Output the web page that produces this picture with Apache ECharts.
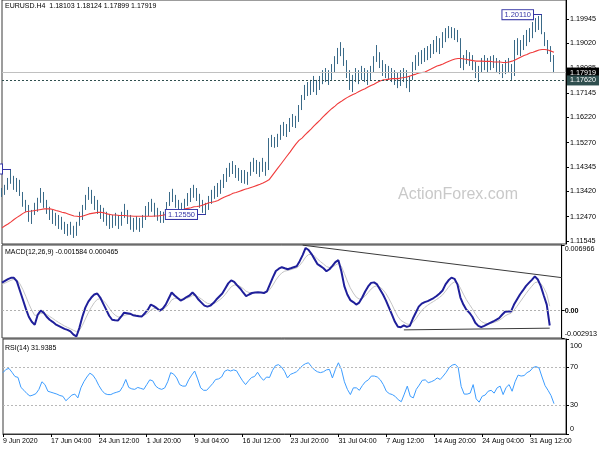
<!DOCTYPE html>
<html><head><meta charset="utf-8">
<script src="https://cdn.jsdelivr.net/npm/echarts@6/dist/echarts.min.js"></script>
<style>html,body{margin:0;padding:0;background:#fff}#c{width:600px;height:450px}</style>
</head><body><div id="c"></div>
<script>
const tickLabels = ['9 Jun 2020','17 Jun 04:00','24 Jun 12:00','1 Jul 20:00','9 Jul 04:00','16 Jul 12:00','23 Jul 20:00','31 Jul 04:00','7 Aug 12:00','14 Aug 20:00','24 Aug 04:00','31 Aug 12:00'];
const barsPerLabel = 16;
const slotCount = 189;

const opens = [1.1348,1.1340,1.1355,1.1378,1.1393,1.1367,1.1378,1.1336,1.1299,1.1280,
1.1249,1.1265,1.1287,1.1306,1.1329,1.1295,1.1272,1.1257,1.1242,1.1227,
1.1234,1.1212,1.1200,1.1193,1.1212,1.1181,1.1216,1.1249,1.1280,1.1318,
1.1340,1.1318,1.1291,1.1272,1.1257,1.1246,1.1234,1.1219,1.1234,1.1227,
1.1216,1.1253,1.1265,1.1234,1.1216,1.1204,1.1227,1.1212,1.1242,1.1272,
1.1291,1.1299,1.1272,1.1253,1.1242,1.1249,1.1291,1.1325,1.1336,1.1299,
1.1280,1.1272,1.1291,1.1318,1.1340,1.1348,1.1325,1.1299,1.1280,1.1284,
1.1310,1.1329,1.1340,1.1355,1.1367,1.1393,1.1416,1.1431,1.1439,1.1416,
1.1401,1.1393,1.1386,1.1405,1.1439,1.1450,1.1423,1.1416,1.1461,1.1423,
1.1529,1.1529,1.1522,1.1544,1.1575,1.1582,1.1567,1.1605,1.1620,1.1605,
1.1658,1.1688,1.1726,1.1733,1.1718,1.1756,1.1733,1.1764,1.1783,1.1771,
1.1786,1.1809,1.1839,1.1869,1.1885,1.1832,1.1794,1.1745,1.1764,1.1786,
1.1771,1.1794,1.1779,1.1764,1.1801,1.1839,1.1869,1.1832,1.1801,1.1794,
1.1786,1.1779,1.1771,1.1756,1.1779,1.1786,1.1748,1.1741,1.1817,1.1839,
1.1847,1.1854,1.1862,1.1869,1.1885,1.1896,1.1907,1.1885,1.1930,1.1937,
1.1953,1.1945,1.1937,1.1922,1.1824,1.1839,1.1854,1.1847,1.1817,1.1794,
1.1801,1.1832,1.1824,1.1817,1.1839,1.1832,1.1817,1.1809,1.1801,1.1824,
1.1832,1.1786,1.1896,1.1885,1.1900,1.1915,1.1922,1.1945,1.1968,1.1975,
1.1983,1.1953,1.1907,1.1877,1.1847];
const highs = [1.1355,1.1367,1.1393,1.1427,1.1401,1.1393,1.1386,1.1340,1.1310,1.1291,
1.1272,1.1299,1.1318,1.1355,1.1340,1.1310,1.1284,1.1272,1.1261,1.1253,
1.1246,1.1227,1.1219,1.1227,1.1212,1.1227,1.1265,1.1291,1.1329,1.1359,
1.1348,1.1325,1.1310,1.1291,1.1280,1.1265,1.1257,1.1253,1.1261,1.1253,
1.1265,1.1295,1.1272,1.1253,1.1242,1.1249,1.1242,1.1253,1.1287,1.1302,
1.1314,1.1299,1.1280,1.1268,1.1265,1.1302,1.1340,1.1352,1.1329,1.1310,
1.1299,1.1314,1.1336,1.1355,1.1367,1.1355,1.1333,1.1310,1.1299,1.1325,
1.1348,1.1363,1.1374,1.1386,1.1408,1.1431,1.1450,1.1457,1.1442,1.1431,
1.1423,1.1423,1.1416,1.1454,1.1469,1.1461,1.1454,1.1469,1.1454,1.1544,
1.1556,1.1548,1.1560,1.1594,1.1605,1.1597,1.1620,1.1635,1.1628,1.1669,
1.1707,1.1745,1.1756,1.1764,1.1779,1.1764,1.1779,1.1801,1.1809,1.1801,
1.1824,1.1854,1.1885,1.1907,1.1885,1.1839,1.1801,1.1783,1.1809,1.1801,
1.1817,1.1809,1.1801,1.1817,1.1854,1.1896,1.1869,1.1839,1.1824,1.1817,
1.1809,1.1801,1.1794,1.1801,1.1809,1.1801,1.1779,1.1832,1.1858,1.1869,
1.1877,1.1885,1.1892,1.1900,1.1915,1.1930,1.1922,1.1945,1.1960,1.1968,
1.1964,1.1960,1.1953,1.1922,1.1858,1.1877,1.1869,1.1858,1.1832,1.1817,
1.1847,1.1858,1.1847,1.1854,1.1858,1.1847,1.1839,1.1824,1.1839,1.1847,
1.1824,1.1915,1.1922,1.1915,1.1934,1.1953,1.1960,1.1983,1.1998,1.2006,
1.2011,1.1945,1.1915,1.1892,1.1858];
const lows = [1.1321,1.1329,1.1348,1.1371,1.1348,1.1340,1.1325,1.1284,1.1265,1.1227,
1.1219,1.1253,1.1265,1.1299,1.1280,1.1257,1.1234,1.1219,1.1212,1.1200,
1.1197,1.1181,1.1174,1.1178,1.1166,1.1174,1.1212,1.1234,1.1272,1.1310,
1.1295,1.1272,1.1257,1.1238,1.1227,1.1212,1.1200,1.1204,1.1212,1.1200,
1.1212,1.1242,1.1219,1.1197,1.1189,1.1197,1.1189,1.1204,1.1234,1.1249,
1.1265,1.1246,1.1231,1.1223,1.1223,1.1249,1.1287,1.1302,1.1280,1.1257,
1.1249,1.1265,1.1287,1.1302,1.1318,1.1306,1.1280,1.1261,1.1255,1.1272,
1.1295,1.1314,1.1321,1.1333,1.1355,1.1378,1.1397,1.1408,1.1393,1.1382,
1.1374,1.1371,1.1367,1.1401,1.1416,1.1408,1.1397,1.1416,1.1401,1.1423,
1.1510,1.1507,1.1510,1.1537,1.1552,1.1548,1.1567,1.1586,1.1582,1.1605,
1.1650,1.1688,1.1703,1.1707,1.1718,1.1707,1.1726,1.1748,1.1756,1.1745,
1.1764,1.1794,1.1824,1.1854,1.1817,1.1771,1.1726,1.1718,1.1756,1.1748,
1.1764,1.1756,1.1745,1.1764,1.1794,1.1832,1.1809,1.1779,1.1771,1.1764,
1.1756,1.1745,1.1733,1.1741,1.1756,1.1733,1.1718,1.1764,1.1801,1.1817,
1.1824,1.1832,1.1839,1.1847,1.1862,1.1869,1.1862,1.1885,1.1907,1.1922,
1.1922,1.1915,1.1907,1.1809,1.1801,1.1824,1.1817,1.1801,1.1771,1.1756,
1.1794,1.1801,1.1794,1.1801,1.1809,1.1794,1.1786,1.1771,1.1786,1.1794,
1.1764,1.1779,1.1858,1.1854,1.1877,1.1892,1.1907,1.1922,1.1945,1.1953,
1.1937,1.1892,1.1862,1.1832,1.17899];
const closes = [1.1340,1.1355,1.1378,1.1393,1.1367,1.1378,1.1336,1.1299,1.1280,1.1249,
1.1265,1.1287,1.1306,1.1329,1.1295,1.1272,1.1257,1.1242,1.1227,1.1234,
1.1212,1.1200,1.1193,1.1212,1.1181,1.1216,1.1249,1.1280,1.1318,1.1340,
1.1318,1.1291,1.1272,1.1257,1.1246,1.1234,1.1219,1.1234,1.1227,1.1216,
1.1253,1.1265,1.1234,1.1216,1.1204,1.1227,1.1212,1.1242,1.1272,1.1291,
1.1299,1.1272,1.1253,1.1242,1.1249,1.1291,1.1325,1.1336,1.1299,1.1280,
1.1272,1.1291,1.1318,1.1340,1.1348,1.1325,1.1299,1.1280,1.1284,1.1310,
1.1329,1.1340,1.1355,1.1367,1.1393,1.1416,1.1431,1.1439,1.1416,1.1401,
1.1393,1.1386,1.1405,1.1439,1.1450,1.1423,1.1416,1.1461,1.1423,1.1529,
1.1529,1.1522,1.1544,1.1575,1.1582,1.1567,1.1605,1.1620,1.1605,1.1658,
1.1688,1.1726,1.1733,1.1718,1.1756,1.1733,1.1764,1.1783,1.1771,1.1786,
1.1809,1.1839,1.1869,1.1885,1.1832,1.1794,1.1745,1.1764,1.1786,1.1771,
1.1794,1.1779,1.1764,1.1801,1.1839,1.1869,1.1832,1.1801,1.1794,1.1786,
1.1779,1.1771,1.1756,1.1779,1.1786,1.1748,1.1741,1.1817,1.1839,1.1847,
1.1854,1.1862,1.1869,1.1885,1.1896,1.1907,1.1885,1.1930,1.1937,1.1953,
1.1945,1.1937,1.1922,1.1824,1.1839,1.1854,1.1847,1.1817,1.1794,1.1801,
1.1832,1.1824,1.1817,1.1839,1.1832,1.1817,1.1809,1.1801,1.1824,1.1832,
1.1786,1.1896,1.1885,1.1900,1.1915,1.1922,1.1945,1.1968,1.1975,1.1983,
1.1953,1.1907,1.1877,1.1847,1.17919];
const maValues = [1.1204,1.1212,1.1219,1.1227,1.1236,1.1244,1.1251,1.1259,1.1265,1.1267,
1.1268,1.1270,1.1272,1.1274,1.1276,1.1276,1.1276,1.1274,1.1270,1.1267,
1.1263,1.1261,1.1257,1.1253,1.1249,1.1248,1.1246,1.1249,1.1253,1.1257,
1.1259,1.1261,1.1263,1.1263,1.1261,1.1257,1.1255,1.1253,1.1253,1.1251,
1.1251,1.1251,1.1249,1.1249,1.1248,1.1248,1.1248,1.1248,1.1248,1.1248,
1.1248,1.1249,1.1249,1.1251,1.1253,1.1257,1.1261,1.1265,1.1267,1.1270,
1.1272,1.1276,1.1278,1.1280,1.1284,1.1285,1.1287,1.1291,1.1295,1.1299,
1.1301,1.1304,1.1308,1.1314,1.1320,1.1325,1.1329,1.1335,1.1338,1.1342,
1.1346,1.1350,1.1353,1.1357,1.1361,1.1365,1.1369,1.1374,1.1380,1.1386,
1.1401,1.1416,1.1431,1.1446,1.1461,1.1476,1.1491,1.1507,1.1522,1.1535,
1.1544,1.1556,1.1567,1.1578,1.1590,1.1601,1.1612,1.1624,1.1635,1.1646,
1.1656,1.1665,1.1675,1.1682,1.1690,1.1697,1.1703,1.1709,1.1714,1.1720,
1.1726,1.1731,1.1737,1.1743,1.1748,1.1754,1.1760,1.1764,1.1765,1.1767,
1.1769,1.1769,1.1769,1.1771,1.1773,1.1775,1.1779,1.1783,1.1786,1.1790,
1.1792,1.1794,1.1800,1.1805,1.1811,1.1817,1.1820,1.1824,1.1830,1.1835,
1.1839,1.1843,1.1845,1.1845,1.1843,1.1841,1.1839,1.1837,1.1835,1.1835,
1.1835,1.1834,1.1834,1.1834,1.1832,1.1832,1.1832,1.1830,1.1830,1.1832,
1.1835,1.1839,1.1845,1.1851,1.1856,1.1860,1.1866,1.1869,1.1873,1.1877,
1.1879,1.1879,1.1877,1.1873,1.1869];
const macdValues = [0.002964,0.003157,0.003340,0.003479,0.003479,0.003103,0.002137,0.001170,0.000204,-0.000655,
-0.001192,-0.001514,-0.000440,-0.000011,-0.000225,-0.000655,-0.000977,-0.001192,-0.001460,-0.001621,
-0.001783,-0.001944,-0.002051,-0.002212,-0.002550,-0.002750,-0.001836,-0.000655,0.000311,0.000956,
0.001385,0.001707,0.001815,0.001385,0.000741,0.000097,-0.000548,-0.000977,-0.001031,-0.001052,
-0.000655,-0.000225,-0.000279,-0.000333,-0.000494,-0.000548,-0.000601,-0.000623,-0.000279,0.000097,
0.000634,0.000472,0.000258,-0.000011,0.000204,0.000634,0.001278,0.001922,0.001600,0.001332,
0.001063,0.001224,0.001439,0.001600,0.001922,0.001600,0.001170,0.000848,0.000526,0.000419,
0.000526,0.000795,0.001170,0.001493,0.001815,0.002352,0.002889,0.003211,0.003050,0.002674,
0.002352,0.001922,0.001525,0.001707,0.001868,0.001922,0.001954,0.001922,0.001868,0.002029,
0.002781,0.003533,0.004209,0.004446,0.004607,0.004499,0.004392,0.004499,0.004607,0.004714,
0.005251,0.005895,0.006650,0.006432,0.006003,0.005466,0.004929,0.004714,0.004499,0.004177,
0.004392,0.004746,0.005144,0.005358,0.004177,0.002599,0.001707,0.001117,0.000902,0.000634,
0.000848,0.001385,0.002029,0.002566,0.002942,0.002996,0.002781,0.002244,0.001707,0.001063,
0.000311,-0.000440,-0.001192,-0.001729,-0.001761,-0.001568,-0.001729,-0.001621,-0.000870,-0.000225,
0.000419,0.000741,0.000902,0.001009,0.001170,0.001332,0.001546,0.001815,0.002137,0.002781,
0.003211,0.003501,0.003372,0.002781,0.001385,0.000634,0.000097,-0.000225,-0.000655,-0.001299,
-0.001621,-0.001761,-0.001621,-0.001460,-0.001299,-0.001160,-0.000977,-0.000795,-0.000440,-0.000118,
-0.000086,-0.000086,0.000634,0.001170,0.001707,0.002137,0.002599,0.002942,0.003264,0.003640,
0.003300,0.002599,0.001600,0.000634,-0.001584];
const signalValues = [0.002781,0.002921,0.003071,0.003221,0.003318,0.003243,0.002846,0.002244,0.001514,0.000730,
0.000043,-0.000515,-0.000483,-0.000311,-0.000279,-0.000419,-0.000623,-0.000827,-0.001052,-0.001256,
-0.001450,-0.001632,-0.001783,-0.001933,-0.002094,-0.002234,-0.002094,-0.001578,-0.000902,-0.000236,
0.000344,0.000838,0.001192,0.001256,0.001074,0.000719,0.000268,-0.000183,-0.000483,-0.000687,
-0.000676,-0.000515,-0.000430,-0.000397,-0.000430,-0.000472,-0.000515,-0.000558,-0.000462,-0.000258,
0.000064,0.000215,0.000225,0.000140,0.000161,0.000333,0.000676,0.001127,0.001299,0.001310,
0.001224,0.001224,0.001299,0.001407,0.001589,0.001589,0.001439,0.001224,0.000977,0.000773,
0.000687,0.000730,0.000891,0.001106,0.001364,0.001718,0.002137,0.002523,0.002717,0.002706,
0.002577,0.002341,0.002051,0.001922,0.001901,0.001911,0.001922,0.001922,0.001901,0.001944,
0.002244,0.002706,0.003243,0.003672,0.004005,0.004188,0.004263,0.004349,0.004446,0.004542,
0.004800,0.005197,0.005680,0.005949,0.005970,0.005788,0.005476,0.005197,0.004950,0.004671,
0.004574,0.004639,0.004821,0.005015,0.004714,0.003952,0.003146,0.002416,0.001868,0.001428,
0.001224,0.001278,0.001546,0.001911,0.002287,0.002545,0.002631,0.002491,0.002212,0.001793,
0.001256,0.000644,-0.000021,-0.000634,-0.001042,-0.001235,-0.001417,-0.001493,-0.001267,-0.000891,
-0.000419,0.000000,0.000322,0.000569,0.000784,0.000977,0.001181,0.001407,0.001664,0.002062,
0.002480,0.002846,0.003039,0.002942,0.002384,0.001750,0.001160,0.000666,0.000193,-0.000344,
-0.000805,-0.001149,-0.001321,-0.001374,-0.001353,-0.001289,-0.001181,-0.001042,-0.000827,-0.000569,
-0.000397,-0.000290,0.000043,0.000451,0.000902,0.001342,0.001793,0.002212,0.002588,0.002964,
0.003039,0.002878,0.002416,0.001772,0.000465];
const rsiValues = [64.6,68,69,65,60.5,59.6,49,46,42.5,40,
41,42.5,47,55,52,45,44,43,42,40.5,
39.7,35,38,41,42,38,48.6,55,60,64,
62,57.4,51,46,42.5,41.5,41.5,43,44,45,
50,57.4,49,47.5,47,49,48,47,52,57,
56,50.4,48,47,48.5,55,64.6,63,59,52,
50.4,50.4,57,62,66.3,58,48.6,46,46,49.5,
53,57.4,58,60,66,67.5,66.3,67.5,66.5,61,
56,52,56,59.5,60.5,65,60,56.5,60,59.5,
67,72,73,70.5,66,59,62.8,64,65.5,68.5,
72,74,75,71,67.5,65.5,64.6,65.5,67.5,68,
59,68,75,68,55,47,41.5,48.6,48.6,46,
51,55,57,61,61,60,57,52,45,42.5,
41.5,39.5,36,34,42,50.4,39.7,38,47,51.5,
56.5,57,54,55,56.5,59,57.4,61,65,70,
72.5,73.4,70,50,42,42,43,52,37,33.5,
39.7,41,45,46,43,48.6,50.4,41.5,49,52,
45,55,62,61,61.5,64.6,66.3,70,71,69.5,
60,51,46,40.5,31.9385];

const priceTicks = [1.11545,1.12470,1.13420,1.14345,1.15270,1.16220,1.17145,1.18085,1.19020,1.19945];
const priceRange = [1.114315, 1.206639];
const macdTicks = [-0.002913, 0, 0.006966];
const rsiTicks = [0, 30, 70, 100];
const rsiLevels = [30, 70];
const lastPrice = 1.17919;
const supportLevel = 1.17620;
// swing markers: [label text, price, label-anchor bar, swing bar]
const swingMarkers = [['1.20110', 1.20110, 177, 180], ['1.12550', 1.12550, 65, 68], ['1.14270', 1.14270, 0, 3]];
// MACD trend lines: [startBar, startValue, endBar, endValue]
const macdTrendLines = [[101, 0.00695, 188, 0.003501], [135, -0.002051, 184, -0.001868]];
const headerText = 'EURUSD.H4  1.18103 1.18124 1.17899 1.17919';
const macdText = 'MACD(12,26,9) -0.001584 0.000465';
const rsiText = 'RSI(14) 31.9385';

const FONT = 'Liberation Sans';
const cats = Array.from({length: slotCount}, (_, i) => String(i));
const candles = opens.map((o, i) => [o, closes[i], lows[i], highs[i]]);
const isLabelIdx = (i) => i % barsPerLabel === 0 && i / barsPerLabel < tickLabels.length;

const chart = echarts.init(document.getElementById('c'), null, {renderer: 'canvas'});
const gridStyle = {show: true, borderColor: '#3a3a3a', borderWidth: 1, backgroundColor: 'transparent'};
const hiddenX = (gi) => ({type: 'category', gridIndex: gi, data: cats, boundaryGap: false,
  axisLine: {show: false}, axisTick: {show: false}, axisLabel: {show: false}, splitLine: {show: false}});
const lblBase = {fontSize: 7.2, color: '#000', fontFamily: FONT};

chart.setOption({
  animation: false,
  textStyle: {fontFamily: FONT},
  title: [
    {text: headerText, left: 5, top: 3, padding: 0, textStyle: {fontSize: 7, fontWeight: 'normal', color: '#000', fontFamily: FONT}},
    {text: macdText, left: 5, top: 249, padding: 0, textStyle: {fontSize: 7, fontWeight: 'normal', color: '#000', fontFamily: FONT}},
    {text: rsiText, left: 5, top: 345, padding: 0, textStyle: {fontSize: 7, fontWeight: 'normal', color: '#000', fontFamily: FONT}}
  ],
  graphic: [{type: 'text', left: 398, top: 187, silent: true, z: -1,
    style: {text: 'ActionForex.com', fontSize: 16, fill: '#c9c9c9', fontFamily: FONT}}],
  grid: [
    Object.assign({left: 2, right: 34, top: 0, height: 244}, gridStyle),
    Object.assign({left: 2, right: 34, top: 245, height: 93}, gridStyle),
    Object.assign({left: 2, right: 34, top: 339, height: 95}, gridStyle)
  ],
  xAxis: [hiddenX(0), hiddenX(1), {
    type: 'category', gridIndex: 2, data: cats, boundaryGap: false,
    axisLine: {show: true, lineStyle: {color: '#333'}},
    axisTick: {show: true, interval: (i) => isLabelIdx(i), length: 3, lineStyle: {color: '#000'}},
    axisLabel: {show: true, interval: (i) => isLabelIdx(i), align: 'left', margin: 4,
      formatter: (v, i) => isLabelIdx(i) ? tickLabels[i / barsPerLabel] : '', fontSize: 7, color: '#000', fontFamily: FONT},
    splitLine: {show: false}
  }],
  yAxis: [
    {type: 'value', gridIndex: 0, position: 'right', min: priceRange[0], max: priceRange[1], scale: true,
      axisLine: {show: true, lineStyle: {color: '#000'}},
      axisTick: {show: true, customValues: priceTicks, length: 3, lineStyle: {color: '#000'}},
      axisLabel: Object.assign({customValues: priceTicks, margin: 4, formatter: (v) => v.toFixed(5)}, lblBase),
      splitLine: {show: false}},
    {type: 'value', gridIndex: 1, position: 'right', min: macdTicks[0], max: macdTicks[2],
      axisLine: {show: true, lineStyle: {color: '#000'}},
      axisTick: {show: true, customValues: macdTicks, length: 3, lineStyle: {color: '#000'}},
      axisLabel: Object.assign({customValues: macdTicks, margin: 3,
        formatter: (v) => Math.abs(v) < 1e-9 ? '{z|0.00}' : (v > 0 ? '{t|' + v.toFixed(6) + '}' : '{b|' + v.toFixed(6) + '}'),
        rich: {
          t: Object.assign({padding: [8, 0, 0, 0]}, lblBase),
          b: Object.assign({padding: [0, 0, 8, 0]}, lblBase),
          z: Object.assign({fontWeight: 'bold'}, lblBase)
        }}, lblBase),
      splitLine: {show: false}},
    {type: 'value', gridIndex: 2, position: 'right', min: 0, max: 100,
      axisLine: {show: true, lineStyle: {color: '#000'}},
      axisTick: {show: true, customValues: rsiTicks, length: 3, lineStyle: {color: '#000'}},
      axisLabel: Object.assign({customValues: rsiTicks, margin: 4,
        formatter: (v) => v === 100 ? '{t|100}' : (v === 0 ? '{b|0}' : String(v)),
        rich: {
          t: Object.assign({padding: [14, 0, 0, 0]}, lblBase),
          b: Object.assign({padding: [0, 0, 10, 0]}, lblBase)
        }}, lblBase),
      splitLine: {show: false}}
  ],
  series: [
    {type: 'candlestick', name: 'EURUSD', xAxisIndex: 0, yAxisIndex: 0, data: candles, barWidth: 1,
      itemStyle: {color: '#4a7896', color0: '#4a7896', borderColor: '#3a6a88', borderColor0: '#3a6a88', borderWidth: 1},
      markLine: {silent: true, symbol: ['none', 'none'], animation: false, precision: 5,
        data: [
          {yAxis: lastPrice, lineStyle: {color: '#c0c0c0', type: 'solid', width: 1},
            label: {show: true, position: 'end', distance: 1, formatter: lastPrice.toFixed(5), backgroundColor: '#000', color: '#fff', padding: [2, 3, 1, 3], fontSize: 7.2, fontFamily: FONT}},
          {yAxis: supportLevel, lineStyle: {color: '#2f4f4f', type: [2, 2], width: 1},
            label: {show: true, position: 'end', distance: 1, formatter: supportLevel.toFixed(5), backgroundColor: '#2f4f4f', color: '#fff', padding: [2, 3, 1, 3], fontSize: 7.2, fontFamily: FONT}}
        ].concat(swingMarkers.map((m) => [
          {coord: [m[2], m[1]], lineStyle: {color: '#3535a5', type: 'solid', width: 1},
            label: {show: true, position: 'start', distance: 0, formatter: m[0], backgroundColor: '#fff', color: '#3535a5', borderColor: '#3535a5', borderWidth: 1, padding: [1, 2, 0, 2], fontSize: 7.5, fontFamily: FONT}},
          {coord: [m[3], m[1]]}
        ]))
      }},
    {type: 'line', name: 'MA', xAxisIndex: 0, yAxisIndex: 0, data: maValues, symbol: 'none', lineStyle: {color: '#f03c3c', width: 1.1}, z: 3},
    {type: 'line', name: 'Signal', xAxisIndex: 1, yAxisIndex: 1, data: signalValues, symbol: 'none', lineStyle: {color: '#c4c4c4', width: 1},
      markLine: {silent: true, symbol: ['none', 'none'], label: {show: false},
        data: [{yAxis: 0, lineStyle: {color: '#b0b0b0', type: [2, 2], width: 1}}]}},
    {type: 'line', name: 'MACD', xAxisIndex: 1, yAxisIndex: 1, data: macdValues, symbol: 'none', lineStyle: {color: '#1f1f9a', width: 2}, z: 4,
      markLine: {silent: true, symbol: ['none', 'none'], label: {show: false},
        data: macdTrendLines.map((t) => [{coord: [t[0], t[1]], lineStyle: {color: '#3a3a3a', type: 'solid', width: 1}}, {coord: [t[2], t[3]]}])}},
    {type: 'line', name: 'RSI', xAxisIndex: 2, yAxisIndex: 2, data: rsiValues, symbol: 'none', lineStyle: {color: '#3c9cff', width: 1},
      markLine: {silent: true, symbol: ['none', 'none'], label: {show: false},
        data: rsiLevels.map((v) => ({yAxis: v, lineStyle: {color: '#b8b8b8', type: [2, 2], width: 1}}))}}
  ]
});
</script></body></html>
